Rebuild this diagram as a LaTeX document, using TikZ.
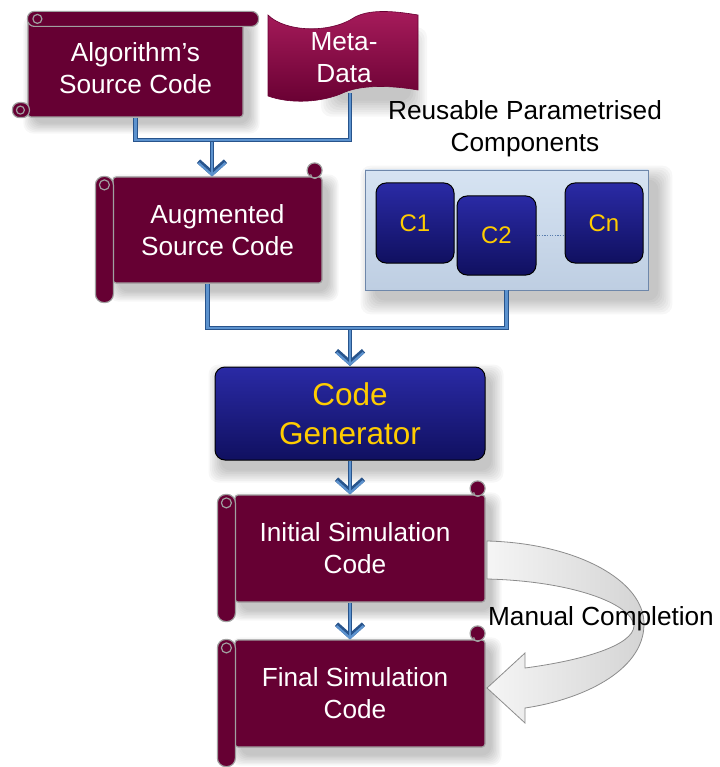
\documentclass[tikz,border=0pt]{standalone}
\usepackage{fontspec}
\setmainfont{Liberation Sans}
\usetikzlibrary{arrows.meta,calc}

\definecolor{maroon}{RGB}{102,0,51}
\definecolor{scrolledge}{RGB}{160,160,160}
\definecolor{pipedark}{RGB}{40,84,140}
\definecolor{pipelight}{RGB}{92,146,206}
\definecolor{navytop}{RGB}{42,42,165}
\definecolor{navybot}{RGB}{16,16,96}
\definecolor{gold}{RGB}{255,204,0}
\definecolor{paneltop}{RGB}{214,227,242}
\definecolor{panelbot}{RGB}{190,206,226}
\definecolor{paneledge}{RGB}{110,135,170}
\definecolor{ribbonedge}{RGB}{140,140,140}
\definecolor{ribbonlight}{RGB}{245,245,245}
\definecolor{ribbondark}{RGB}{212,212,212}
\definecolor{metatop}{RGB}{168,28,92}
\definecolor{metabot}{RGB}{104,0,50}
\definecolor{dotblue}{RGB}{90,125,175}

\pgfdeclarelayer{shadowlayer}
\pgfsetlayers{shadowlayer,main}

\tikzset{
  x=1pt, y=-1pt,
  bigtext/.style={font=\fontsize{26.2}{32}\selectfont, align=center},
  scrollbody/.style={bigtext, fill=maroon, draw=scrolledge, line width=1.2pt,
    rounded corners=3pt, text=white, inner sep=0pt},
  rollpart/.style={fill=maroon, draw=scrolledge, line width=1.2pt},
  curl/.style={draw=scrolledge, line width=1.2pt},
  pipe/.style={draw=pipelight, line width=2.2pt, line cap=butt,
    preaction={draw=pipedark, line width=4.8pt}},
  pipetip/.style={-{Straight Barb[length=12pt,width=27pt]}},
  navybox/.style={top color=navytop, bottom color=navybot, draw=black,
    line width=1pt, rounded corners=10pt, text=gold, inner sep=0pt},
  compbox/.style={navybox, minimum width=78pt, minimum height=80pt,
    font=\fontsize{24}{28}\selectfont},
  metashape/.style={top color=metatop, bottom color=metabot, draw=metabot, line width=0.6pt},
  ribbon/.style={left color=ribbonlight, right color=ribbondark, draw=ribbonedge, line width=0.8pt},
}

% soft shadow behind a node: #1 node, #2/#3 offset (pt), #4 spread (pt)
\newcommand\softshadow[4]{%
  \begin{pgfonlayer}{shadowlayer}
    \foreach \s in {0,1,...,7} {
      \fill[black, opacity=0.03, rounded corners=10pt]
        ([xshift=#2pt-\s*#4/7 pt, yshift=#3pt-\s*#4/7 pt]#1.south west)
        rectangle ([xshift=#2pt+\s*#4/7 pt, yshift=#3pt+\s*#4/7 pt]#1.north east);
    }
  \end{pgfonlayer}}

% decorations of a scroll rolled at the top and bottom-left
\newcommand\hscrollparts[1]{%
  \draw[rollpart, rounded corners=7pt] ([yshift=8pt]#1.north west) rectangle ([xshift=15pt,yshift=-7pt]#1.north east);
  \draw[curl] ([xshift=10pt,yshift=0.5pt]#1.north west) circle (4.5pt);
  \draw[rollpart, rounded corners=7pt] ([xshift=-15pt,yshift=15pt]#1.south west) rectangle ([xshift=2pt]#1.south west);
  \draw[curl] ([xshift=-7pt,yshift=7.5pt]#1.south west) circle (4pt);
}
% decorations of a scroll rolled on the left side and the top-right corner
\newcommand\vscrollparts[1]{%
  \draw[rollpart] ([xshift=-8pt,yshift=6pt]#1.north east) circle (7.5pt);
  \draw[curl] ([xshift=-12pt,yshift=2pt]#1.north east) arc[start angle=180, end angle=300, radius=4pt];
  \draw[rollpart, rounded corners=8.5pt] ([xshift=-17pt]#1.north west) rectangle ([xshift=1pt,yshift=-19pt]#1.south west);
  \draw[curl] ([xshift=-8pt,yshift=-8.5pt]#1.north west) circle (5pt);
}

\begin{document}
\begin{tikzpicture}
\useasboundingbox (0,0) rectangle (719,767);

% ---- top row: source code and meta-data ----
\node[scrollbody, minimum width=215pt, minimum height=97pt] (algo) at (135.5,68.5) {Algorithm's\\Source Code};
\hscrollparts{algo}
\softshadow{algo}{6}{-6}{10}

\draw[metashape] (268,15) .. controls (285,32) and (330,34) .. (355,17)
  .. controls (372,8) and (400,12) .. (418,15) -- (418,90)
  .. controls (395,86) and (365,84) .. (345,92)
  .. controls (322,103) and (290,104) .. (268,96) -- cycle;
\node[bigtext, text=white] (meta) at (344,58) {Meta-\\Data};
\softshadow{meta}{30}{-14}{16}
\coordinate (metafoot) at (350,93);

% ---- augmented source code ----
\node[scrollbody, minimum width=209pt, minimum height=106pt] (aug) at (217.5,230) {Augmented\\Source Code};
\vscrollparts{aug}
\softshadow{aug}{6}{-8}{10}

% ---- component library ----
\node[bigtext] (reuse) at (525,129) {Reusable Parametrised\\Components};
\node[top color=paneltop, bottom color=panelbot, draw=paneledge, line width=0.8pt,
  minimum width=283pt, minimum height=120pt, inner sep=0pt] (panel) at (506.5,230) {};
\softshadow{panel}{10}{-10}{14}
\node[compbox] (c1) at (415,223) {C1};
\node[compbox] (cn) at (604,223) {Cn};
\node[compbox, minimum width=79pt, minimum height=79pt] (c2) at (496.5,235.5) {C2};
\draw[dotblue, line width=1.3pt, dash pattern=on 1.3pt off 1.3pt] (c2.east) -- (c2.east -| cn.west);

% ---- merging connectors ----
\coordinate (j1) at (212,140);
\coordinate (j2) at (350,328);
\draw[pipe, pipetip] (j1) -- (j1 |- aug.north);
\draw[pipe] (algo.south) |- (j1) -| (metafoot);
\draw[pipe, pipetip] (j2) -- (j2 |- 0,366);
\draw[pipe] ([xshift=-10pt]aug.south) |- (j2) -| (panel.south);

% ---- code generator ----
\node[navybox, minimum width=270pt, minimum height=93pt, font=\fontsize{31.5}{39}\selectfont,
  align=center] (gen) at (350,413.5) {Code\\Generator};
\softshadow{gen}{6}{-10}{12}

% ---- manual completion loop ----
\draw[ribbon] (487,541) .. controls (575,543) and (645,580) .. (644,625)
  .. controls (643,672) and (580,700) .. (525,708) -- (525,723) -- (487,688)
  -- (525,653) -- (525,668) .. controls (585,660) and (633,645) .. (634,626)
  .. controls (632,603) and (570,581) .. (487,579) -- cycle;

% ---- generated code ----
\node[scrollbody, minimum width=250pt, minimum height=107pt] (init) at (360,548.5) {\hspace*{-10pt}Initial Simulation\\\hspace*{-10pt}Code};
\vscrollparts{init}
\softshadow{init}{6}{-8}{10}
\node[scrollbody, minimum width=250pt, minimum height=107pt] (final) at (360,693.5) {\hspace*{-10pt}Final Simulation\\\hspace*{-10pt}Code};
\vscrollparts{final}
\softshadow{final}{6}{-8}{10}

\draw[pipe, pipetip] (gen.south) -- (gen.south |- init.north);
\draw[pipe, pipetip] (gen.south |- init.south) -- (gen.south |- final.north);

\node[bigtext] (manual) at (601,619) {Manual Completion};
\end{tikzpicture}
\end{document}
